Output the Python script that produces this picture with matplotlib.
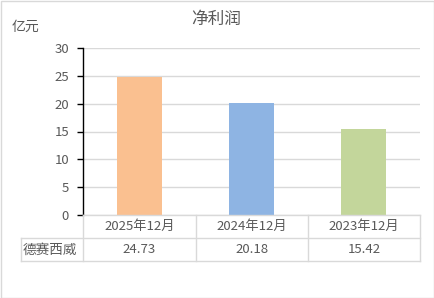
import matplotlib.pyplot as plt
from matplotlib.patches import Rectangle

plt.rcParams['font.family'] = ['Noto Sans CJK SC', 'DejaVu Sans']

# 数据
categories = ["2025年12月", "2024年12月", "2023年12月"]
series_name = "德赛西威"
values = [24.73, 20.18, 15.42]
colors = ["#FAC090", "#8EB4E3", "#C3D69B"]

W, H = 434, 298
fig = plt.figure(figsize=(W / 100, H / 100), dpi=100)
ax = fig.add_axes([83 / W, (H - 215) / H, (420 - 83) / W, (215 - 48) / H])

x = range(len(categories))
ax.bar(x, values, width=0.4, color=colors, zorder=3)
ax.set_xlim(-0.5, len(categories) - 0.5)
ax.set_ylim(0, 30)
ax.set_yticks(range(0, 31, 5))
ax.grid(axis="y", color="#D9D9D9", linewidth=1, zorder=0)
ax.set_xticks([])
for s in ["top", "right", "bottom"]:
    ax.spines[s].set_visible(False)
ax.spines["left"].set_color("black")
ax.spines["left"].set_linewidth(1)
ax.tick_params(axis="y", colors="black", labelcolor="#595959", labelsize=9.5,
               length=4, width=1, direction="out", pad=6)

# 标题与单位
fig.text(216 / W, 1 - 19 / H, "净利润", ha="center", va="center", fontsize=12, color="#595959")
fig.text(25 / W, 1 - 27 / H, "亿元", ha="center", va="center", fontsize=10, color="#595959")

# 数据表
def fx(px):
    return px / W

def fy(py):
    return 1 - py / H

lc = "#D9D9D9"
cols = [83, 195.5, 308, 420]
fig.add_artist(plt.Line2D([fx(83), fx(420)], [fy(215), fy(215)], color=lc, lw=1))
for yy in (238, 261):
    fig.add_artist(plt.Line2D([fx(21), fx(420)], [fy(yy), fy(yy)], color=lc, lw=1))
for xx in cols:
    fig.add_artist(plt.Line2D([fx(xx), fx(xx)], [fy(215), fy(261)], color=lc, lw=1))
fig.add_artist(plt.Line2D([fx(21), fx(21)], [fy(238), fy(261)], color=lc, lw=1))

for i, (cat, val) in enumerate(zip(categories, values)):
    cx = (cols[i] + cols[i + 1]) / 2
    fig.text(fx(cx), fy(226.5), cat, ha="center", va="center", fontsize=9.5, color="#595959")
    fig.text(fx(cx), fy(249.5), f"{val:.2f}", ha="center", va="center", fontsize=9.5, color="#595959")
fig.text(fx(50), fy(249.5), series_name, ha="center", va="center", fontsize=9.8, color="#595959")

# 外框
fig.add_artist(Rectangle((0.5 / W, 0.5 / H), 1 - 1 / W, 1 - 1 / H, transform=fig.transFigure,
                         fill=False, edgecolor="#D9D9D9", lw=1))

fig.savefig("out.png", dpi=100)
